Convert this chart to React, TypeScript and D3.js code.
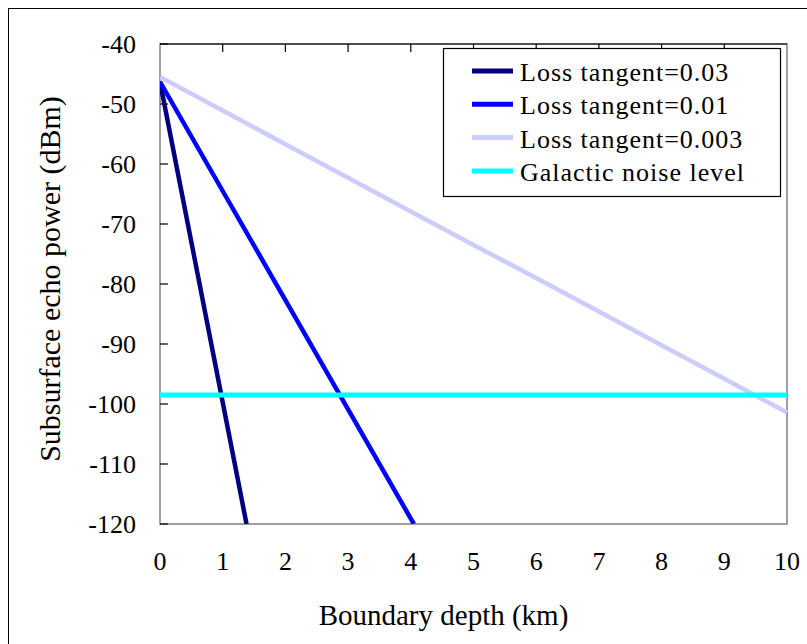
import React, { useEffect, useRef } from "react";
import * as d3 from "d3";

// depth (km) / echo power (dBm)
const depth003 = [0, 0.5, 1, 1.38];
const power003 = [-46.3, -73.0, -99.7, -120];
const depth001 = [0, 1, 2, 3, 4, 4.05];
const power001 = [-46.3, -64.5, -82.7, -100.9, -119.1, -120];
const depth0003 = [0, 1, 2, 3, 4, 5, 6, 7, 8, 9, 10];
const power0003 = [-45.5, -51.1, -56.7, -62.3, -67.9, -73.5, -79.0, -84.6, -90.2, -95.8, -101.4];
const noiseLevel = -98.5;

const xTicks = [0, 1, 2, 3, 4, 5, 6, 7, 8, 9, 10];
const yTicks = [-40, -50, -60, -70, -80, -90, -100, -110, -120];

const legendLabels = ["Loss tangent=0.03", "Loss tangent=0.01", "Loss tangent=0.003", "Galactic noise level"];
const colors = ["#000080", "#0000ff", "#ccccff", "#00ffff"];

const App = () => {
  const svgRef = useRef(null);

  useEffect(() => {
    const svg = d3.select(svgRef.current);
    svg.selectAll("*").remove();

    const font = "'Liberation Serif', 'Times New Roman', serif";
    const plot = { left: 160, right: 787, top: 44, bottom: 524 };

    const x = d3.scaleLinear().domain([0, 10]).range([plot.left, plot.right]);
    const y = d3.scaleLinear().domain([-120, -40]).range([plot.bottom, plot.top]);

    // outer frame
    svg.append("rect")
      .attr("x", 8.5).attr("y", 8.5)
      .attr("width", 830).attr("height", 680)
      .attr("fill", "white").attr("stroke", "#000").attr("stroke-width", 1);

    svg.append("defs").append("clipPath").attr("id", "plotclip")
      .append("rect")
      .attr("x", plot.left).attr("y", plot.top - 3)
      .attr("width", plot.right - plot.left + 3).attr("height", plot.bottom - plot.top + 3);

    // plot area border
    svg.append("rect")
      .attr("x", plot.left).attr("y", plot.top)
      .attr("width", plot.right - plot.left).attr("height", plot.bottom - plot.top)
      .attr("fill", "none").attr("stroke", "#808080").attr("stroke-width", 1.5);
    svg.append("line")
      .attr("x1", plot.left).attr("x2", plot.right)
      .attr("y1", plot.top).attr("y2", plot.top)
      .attr("stroke", "#000").attr("stroke-width", 1.2);

    // x ticks hang down from the top edge
    svg.append("g").selectAll("line").data(xTicks.slice(1, -1)).join("line")
      .attr("x1", (d) => x(d)).attr("x2", (d) => x(d))
      .attr("y1", plot.top).attr("y2", plot.top + 8)
      .attr("stroke", "#000").attr("stroke-width", 1.2);

    // y ticks point inward
    svg.append("g").selectAll("line").data(yTicks).join("line")
      .attr("x1", plot.left).attr("x2", plot.left + 8)
      .attr("y1", (d) => y(d)).attr("y2", (d) => y(d))
      .attr("stroke", "#000").attr("stroke-width", 1.2);

    svg.append("g").selectAll("text").data(yTicks).join("text")
      .attr("x", 136).attr("y", (d) => y(d))
      .attr("dy", "0.35em")
      .attr("text-anchor", "end")
      .attr("font-family", font).attr("font-size", 26)
      .text((d) => d);

    svg.append("g").selectAll("text").data(xTicks).join("text")
      .attr("x", (d) => x(d)).attr("y", 570)
      .attr("text-anchor", "middle")
      .attr("font-family", font).attr("font-size", 26)
      .text((d) => d);

    svg.append("text")
      .attr("x", (plot.left + plot.right) / 2 - 30).attr("y", 625)
      .attr("text-anchor", "middle")
      .attr("font-family", font).attr("font-size", 29)
      .text("Boundary depth (km)");

    svg.append("text")
      .attr("transform", "translate(60, 279) rotate(-90)")
      .attr("text-anchor", "middle")
      .attr("font-family", font).attr("font-size", 30)
      .text("Subsurface echo power (dBm)");

    const line = d3.line()
      .x((d) => x(d[0]))
      .y((d) => y(d[1]));

    const series = [
      d3.zip(depth003, power003),
      d3.zip(depth001, power001),
      d3.zip(depth0003, power0003),
      [[0, noiseLevel], [10, noiseLevel]],
    ];

    const lines = svg.append("g").attr("clip-path", "url(#plotclip)");
    // draw light line first so darker ones sit on top, noise on top of all
    [2, 0, 1, 3].forEach((i) => {
      lines.append("path")
        .datum(series[i])
        .attr("fill", "none")
        .attr("stroke", colors[i])
        .attr("stroke-width", i === 3 ? 5 : 4.5)
        .attr("stroke-linejoin", "round")
        .attr("d", line);
    });

    // legend
    const legend = svg.append("g");
    legend.append("rect")
      .attr("x", 443.5).attr("y", 48.5)
      .attr("width", 337).attr("height", 148)
      .attr("fill", "white").attr("stroke", "#000").attr("stroke-width", 1.2);

    legendLabels.forEach((label, i) => {
      const by = 81 + i * 33.3;
      legend.append("line")
        .attr("x1", 472).attr("x2", 513)
        .attr("y1", by - 10).attr("y2", by - 10)
        .attr("stroke", colors[i]).attr("stroke-width", 5);
      legend.append("text")
        .attr("x", 520).attr("y", by)
        .attr("font-family", font).attr("font-size", 26)
        .attr("letter-spacing", 1)
        .text(label);
    });
  }, []);

  return (
    <svg
      ref={svgRef}
      width={807}
      height={644}
      style={{ position: "absolute", left: 0, top: 0, background: "white" }}
    ></svg>
  );
};

export default App;
